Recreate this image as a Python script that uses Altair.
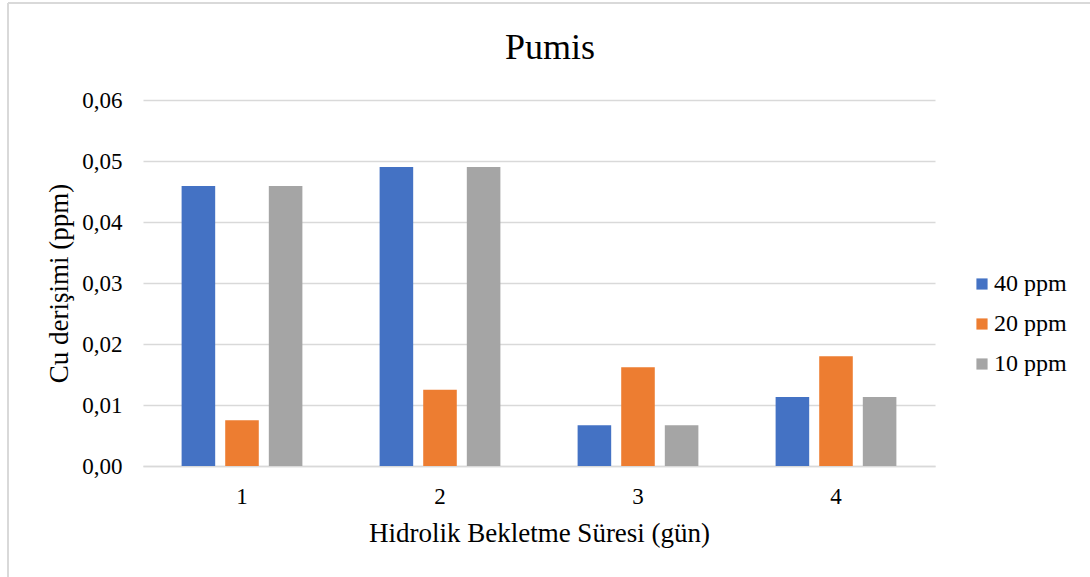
import altair as alt
import pandas as pd

days = ["1", "2", "3", "4"]
series = ["40 ppm", "20 ppm", "10 ppm"]
vals_40 = [0.0459, 0.0490, 0.0067, 0.0113]
vals_20 = [0.0075, 0.0125, 0.0162, 0.0180]
vals_10 = [0.0459, 0.0490, 0.0067, 0.0113]
colors = ["#4472C4", "#ED7D31", "#A5A5A5"]

rows = []
for s, vals in zip(series, [vals_40, vals_20, vals_10]):
    for d, v in zip(days, vals):
        rows.append({"day": d, "series": s, "value": v})
df = pd.DataFrame(rows)

FONT = "Liberation Serif"
TXT = "#000000"

bars = alt.Chart(df).mark_bar().encode(
    x=alt.X("day:N", sort=days,
            scale=alt.Scale(paddingInner=0.39, paddingOuter=0.195),
            axis=alt.Axis(title="Hidrolik Bekletme Süresi (gün)", labelAngle=0,
                          labelFont=FONT, labelFontSize=23, labelColor=TXT,
                          titleFont=FONT, titleFontSize=27, titleFontWeight="normal",
                          titleColor=TXT, labelPadding=19, titlePadding=12,
                          ticks=False, domainColor="#d9d9d9", domainWidth=1.5, grid=False)),
    xOffset=alt.XOffset("series:N", sort=series,
                        scale=alt.Scale(paddingInner=0.23, paddingOuter=0)),
    y=alt.Y("value:Q",
            scale=alt.Scale(domain=[0, 0.06], nice=False),
            axis=alt.Axis(title="Cu derişimi (ppm)", values=[0, 0.01, 0.02, 0.03, 0.04, 0.05, 0.06],
                          labelExpr="replace(format(datum.value, '.2f'), '.', ',')",
                          labelFont=FONT, labelFontSize=23, labelColor=TXT,
                          titleFont=FONT, titleFontSize=27, titleFontWeight="normal",
                          titleColor=TXT, labelPadding=21, titlePadding=8,
                          ticks=False, domain=False, gridColor="#d9d9d9", gridWidth=1.3)),
    color=alt.Color("series:N", sort=series,
                    scale=alt.Scale(domain=series, range=colors),
                    legend=alt.Legend(title=None, orient="none", legendX=827, legendY=172,
                                      symbolType="square", symbolSize=125, symbolStrokeWidth=0,
                                      labelFont=FONT, labelFontSize=24, labelColor=TXT,
                                      rowPadding=16, labelOffset=0)),
)

frame_top = alt.Chart(df).mark_rule(color="#d9d9d9", strokeWidth=1.5).encode(
    x=alt.value(-135), x2=alt.value(950), y=alt.value(-97)
)
frame_left = alt.Chart(df).mark_rule(color="#d9d9d9", strokeWidth=1.5).encode(
    x=alt.value(-135), y=alt.value(-97), y2=alt.value(480)
)

chart = alt.layer(bars, frame_top, frame_left).properties(
    width=792, height=366,
    title=alt.TitleParams("Pumis", font=FONT, fontSize=36, fontWeight="normal",
                          color=TXT, anchor="middle", offset=-65, dx=11),
    autosize="none",
    padding={"left": 143, "top": 100, "right": 155, "bottom": 111},
).configure_view(stroke=None)

chart.save("out.html", embed_options={"renderer": "svg", "actions": False})
